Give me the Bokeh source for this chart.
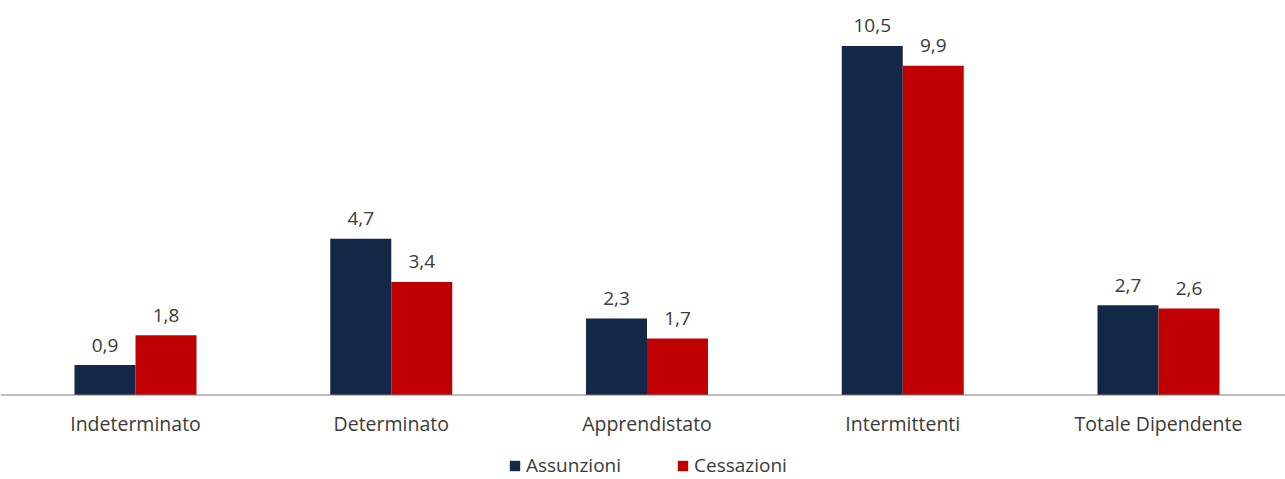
from bokeh.plotting import figure
from bokeh.models import ColumnDataSource, Legend, LegendItem, Span
from bokeh.transform import dodge
from bokeh.core.properties import value
from bokeh.embed import file_html
from bokeh.resources import INLINE

categories = ["Indeterminato", "Determinato", "Apprendistato", "Intermittenti", "Totale Dipendente"]
assunzioni = [0.9, 4.7, 2.3, 10.5, 2.7]
cessazioni = [1.8, 3.4, 1.7, 9.9, 2.6]

NAVY = "#132846"
RED = "#C00000"
TXT = "#3a3a3a"
FONT = "Open Sans"

xs = list(range(len(categories)))
fmt = lambda v: f"{v:.1f}".replace(".", ",")
src = ColumnDataSource(dict(
    x=xs, cat=categories, a=assunzioni, c=cessazioni,
    al=[fmt(v) for v in assunzioni], cl=[fmt(v) for v in cessazioni],
    zero=[0] * len(xs),
))

W, H = 1285, 479
p = figure(width=W, height=H, output_backend="svg", toolbar_location=None,
           x_range=(-0.5279, 4.4966), y_range=(-2.541, 11.865),
           min_border_left=0, min_border_right=0, min_border_top=0, min_border_bottom=0)
p.xaxis.visible = False
p.yaxis.visible = False
p.grid.visible = False
p.outline_line_color = None

bw = 0.2385
off = bw / 2
ra = p.vbar(x=dodge("x", -off, range=p.x_range), top="a", width=bw, source=src,
            fill_color=NAVY, line_color=None)
rc = p.vbar(x=dodge("x", off, range=p.x_range), top="c", width=bw, source=src,
            fill_color=RED, line_color=None)

p.add_layout(Span(location=0, dimension="width", line_color="#7f7f7f", line_width=1))

p.text(x=dodge("x", -off, range=p.x_range), y="a", text="al", source=src,
       text_align="center", text_baseline="middle", y_offset=-20,
       text_font=value(FONT), text_font_size="19px", text_color=TXT)
p.text(x=dodge("x", off, range=p.x_range), y="c", text="cl", source=src,
       text_align="center", text_baseline="middle", y_offset=-20,
       text_font=value(FONT), text_font_size="19px", text_color=TXT)
p.text(x="x", y="zero", text="cat", source=src,
       text_align="center", text_baseline="middle", y_offset=28,
       text_font=value(FONT), text_font_size="19.5px", text_color=TXT)

legend = Legend(items=[LegendItem(label="Assunzioni", renderers=[ra]),
                       LegendItem(label="Cessazioni", renderers=[rc])],
                orientation="horizontal", location=(508, 1),
                glyph_width=13, glyph_height=13, label_standoff=5, spacing=55,
                padding=0, margin=0, border_line_color=None, background_fill_alpha=0,
                label_text_font=FONT, label_text_font_size="19px", label_text_color=TXT)
p.add_layout(legend, "center")

open("out.html", "w").write(file_html(p, INLINE))
